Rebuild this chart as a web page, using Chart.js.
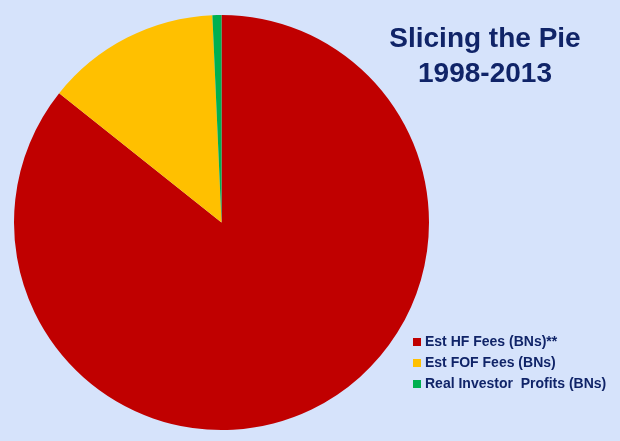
<!DOCTYPE html>
<html>
<head>
  <meta charset="UTF-8">
  <title>Slicing the Pie</title>
  <script src="https://cdn.jsdelivr.net/npm/chart.js"></script>
  <style>
    body {
      margin: 0;
      background-color: #d6e3fb;
      font-family: 'Liberation Sans', Arial, sans-serif;
    }
    .wrap {
      position: relative;
      width: 620px;
      height: 441px;
    }
    .title {
      position: absolute;
      left: 385px;
      width: 200px;
      top: 20px;
      text-align: center;
      color: #102468;
      font-weight: bold;
      font-size: 28px;
      line-height: 35px;
    }
    .legend {
      position: absolute;
      left: 413px;
      top: 331px;
      color: #102468;
      font-weight: bold;
      font-size: 14px;
    }
    .legend div {
      height: 21px;
      line-height: 21px;
      white-space: pre;
    }
    .legend span {
      display: inline-block;
      width: 8px;
      height: 8px;
      margin-right: 4px;
    }
  </style>
</head>
<body>
  <div class="wrap">
    <canvas id="pieChart" width="620" height="441"></canvas>
    <div class="title">Slicing the Pie<br>1998-2013</div>
    <div class="legend" id="legend"></div>
  </div>

  <script>
    const labels = ['Est HF Fees (BNs)**', 'Est FOF Fees (BNs)', 'Real Investor  Profits (BNs)'];
    const values = [85.7, 13.6, 0.7];
    const colors = ['#c00000', '#ffc000', '#00b050'];

    new Chart(document.getElementById('pieChart'), {
      type: 'pie',
      data: {
        labels: labels,
        datasets: [{
          data: values,
          backgroundColor: colors,
          borderWidth: 0
        }]
      },
      options: {
        responsive: false,
        animation: false,
        layout: { padding: { left: 14, top: 15, bottom: 11, right: 191 } },
        plugins: {
          legend: { display: false },
          tooltip: { enabled: false }
        }
      }
    });

    const legend = document.getElementById('legend');
    labels.forEach((name, i) => {
      const row = document.createElement('div');
      const box = document.createElement('span');
      box.style.background = colors[i];
      row.appendChild(box);
      row.appendChild(document.createTextNode(name));
      legend.appendChild(row);
    });
  </script>
</body>
</html>
